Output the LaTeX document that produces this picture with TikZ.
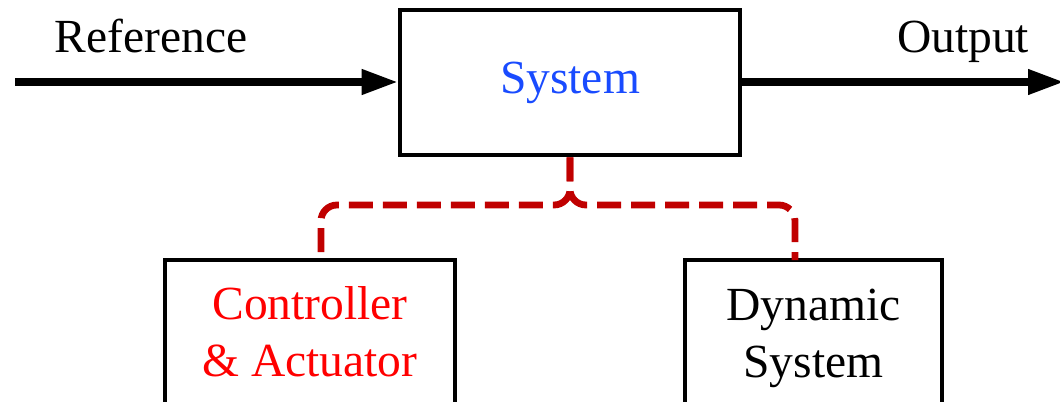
\documentclass[tikz,border=0pt]{standalone}
\usepackage{fontspec}
\setmainfont{Liberation Serif}
\usetikzlibrary{arrows.meta}
\definecolor{sysblue}{RGB}{25,75,255}
\definecolor{linkred}{RGB}{192,0,0}

\begin{document}
\begin{tikzpicture}[font=\fontsize{33.8}{40.5}\selectfont,
  box/.style={draw,line width=0.115cm,inner sep=0pt},
  flow/.style={line width=0.18cm,-{Triangle[length=0.9cm,width=0.6cm]}},
  link/.style={draw=linkred,line width=0.17cm,dash pattern=on 0.6cm off 0.25cm,rounded corners=0.4cm}]

\useasboundingbox (0,0) rectangle (26.5,-10.05);
\clip (0,0) rectangle (26.5,-10.05);

\begin{scope}
\node[box,minimum width=8.5cm,minimum height=3.625cm] (sys) at (14.25,-2.0625) {};
\node[box,minimum width=7.25cm,minimum height=4cm] (ctrl) at (7.75,-8.5) {};
\node[box,minimum width=6.425cm,minimum height=4cm] (dyn) at (20.3375,-8.5) {};

\coordinate (in) at (0.375,-2.05);
\coordinate (out) at (26.6,-2.05);
\coordinate (jn) at (14.25,-5.125);
\coordinate (cin) at (8.025,-6.5);
\coordinate (din) at (19.875,-6.5);

\draw[flow] (in) -- (sys.west |- in);
\draw[flow] (sys.east |- out) -- (out);

\draw[link] (sys.south) -- (jn) -| (cin);
\draw[link] (sys.south) -- (jn) -| (din);

\node[text=sysblue] (systxt) at (sys) {System};
\node[anchor=base] (reftxt) at (3.775,-1.325) {Reference};
\node[anchor=base] (outtxt) at (24.075,-1.325) {Output};
\node[text=red,align=center] (ctrltxt) at (7.75,-8.3) {Controller\\\& Actuator};
\node[align=center] (dyntxt) at (20.3375,-8.45) {Dynamic\\System};
\end{scope}

\end{tikzpicture}
\end{document}
